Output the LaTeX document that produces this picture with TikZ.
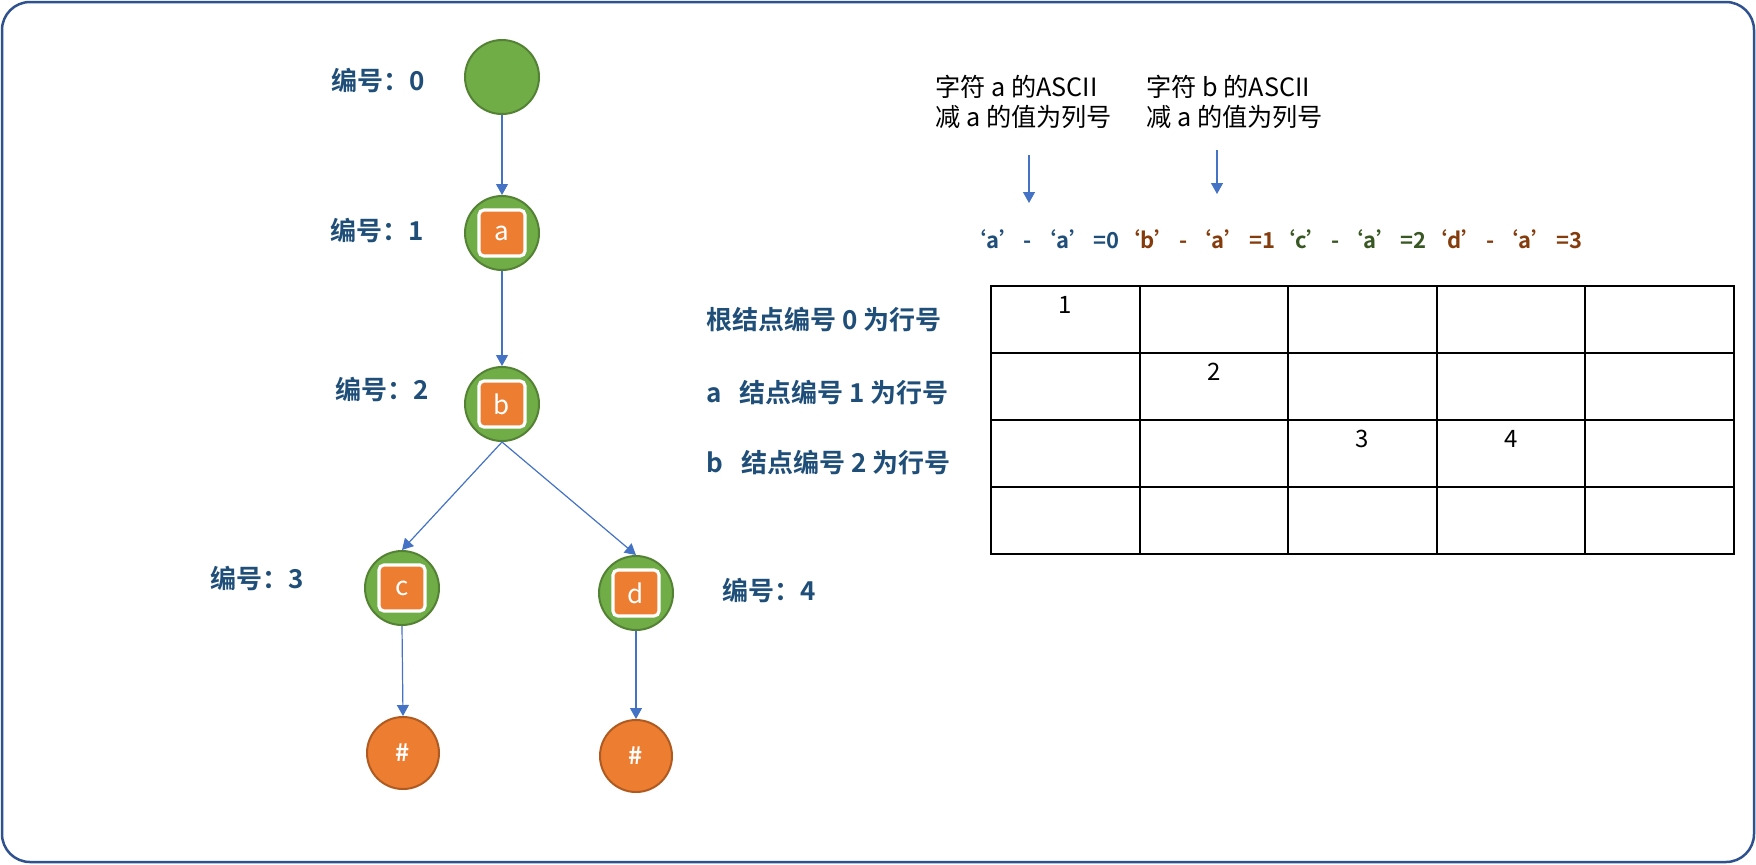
\documentclass[tikz,border=0pt]{standalone}
\usepackage{fontspec}
\setmainfont{Noto Sans CJK SC}[BoldFont={Noto Sans CJK SC Bold}]
\usepackage{tikz}
\usetikzlibrary{positioning,arrows.meta}
\definecolor{FrameBlue}{RGB}{47,82,143}
\definecolor{LabelBlue}{RGB}{31,78,121}
\definecolor{LinkBlue}{RGB}{68,114,196}
\definecolor{TrieGreen}{RGB}{112,173,71}
\definecolor{TrieGreenDark}{RGB}{84,130,53}
\definecolor{KeyOrange}{RGB}{237,125,49}
\definecolor{KeyOrangeDark}{RGB}{174,90,33}
\definecolor{CharBrown}{RGB}{132,60,12}
\definecolor{CharGreen}{RGB}{56,87,35}
\newcommand{\gap}{\hspace{1.2pt}}
\tikzset{
	trie/.style={circle,draw=TrieGreenDark,fill=TrieGreen,line width=1pt,minimum size=37pt,inner sep=0pt},
	tail/.style={circle,draw=KeyOrangeDark,fill=KeyOrange,line width=1pt,minimum size=36pt,inner sep=0pt,
		text=white,font=\fontsize{12}{14}\selectfont\bfseries},
	key/.style={draw=white,fill=KeyOrange,rounded corners=2.5pt,line width=1.6pt,minimum size=23pt,inner sep=0pt,
		text=white,font=\fontsize{13}{15}\selectfont},
	link/.style={draw=LinkBlue,line width=0.6pt,-{Triangle[width=6pt,length=5.5pt]}},
	idx/.style={text=LabelBlue,font=\fontsize{13}{15}\selectfont\bfseries},
	note/.style={align=left,inner sep=0pt,font=\fontsize{12.6}{15}\selectfont},
	calc/.style={font=\fontsize{11}{13}\selectfont\bfseries},
	cellbox/.style={draw=black,line width=1pt,minimum width=74.3pt,minimum height=33.5pt,inner sep=0pt},
	cellnum/.style={font=\fontsize{12}{14}\selectfont},
}

\begin{document}
\begin{tikzpicture}[x=0.5pt,y=-0.5pt]
	\useasboundingbox (0,0) rectangle (1756,864);
	\draw[FrameBlue,line width=1.25pt,rounded corners=14pt] (2,2) rectangle (1754,862);
	\node[trie] (n0) at (502,77) {};
	\node[trie] (n1) at (502,233) {};
	\node[trie] (n2) at (502,404) {};
	\node[trie] (n3) at (402,588) {};
	\node[trie] (n4) at (636,593) {};
	\node[tail] (e3) at (403,753) {\#};
	\node[tail] (e4) at (636,756) {\#};
	\foreach \p/\c in {n1/a,n2/b,n3/c,n4/d}
	\node[key] (k\c) at (\p) {\c};
	\foreach \u/\v in {n0/n1,n1/n2,n2/n3,n2/n4,n3/e3,n4/e4}
	\draw[link] (\u.south) -- (\v.north);
	\foreach \k/\x/\y in {0/378/80,1/377/230,2/382/389,3/257/578,4/769/590}
	\node[idx] (i\k) at (\x,\y) {编号：\k};
	\node[idx,anchor=west,inner sep=0pt] (r0) at (706,320) {根结点编号 0 为行号};
	\node[idx,anchor=west,inner sep=0pt] (r1) at (706,393) {a\hspace{9pt}结点编号 1 为行号};
	\node[idx,anchor=west,inner sep=0pt] (r2) at (706,463) {b\hspace{9pt}结点编号 2 为行号};
	\node[note,anchor=west] (ta) at (935,102) {字符 a 的ASCII\\减 a 的值为列号};
	\node[note,anchor=west] (tb) at (1146,102) {字符 b 的ASCII\\减 a 的值为列号};
	\coordinate (pa) at (1029,155);
	\coordinate (qa) at (1029,203);
	\coordinate (pb) at (1217,150);
	\coordinate (qb) at (1217,194);
	\draw[link] (pa) -- (qa);
	\draw[link] (pb) -- (qb);
	\foreach \n/\t/\x/\col in {0/‘a’\gap-\gap‘a’\gap=0/1042/LabelBlue,1/‘b’\gap-\gap‘a’\gap=1/1197/CharBrown,
		2/‘c’\gap-\gap‘a’\gap=2/1350/CharGreen,3/‘d’\gap-\gap‘a’\gap=3/1504/CharBrown}
	\node[calc,text=\col] (f\n) at (\x,239) {\t};
	\foreach \r in {0,...,3}
	\foreach \c in {0,...,4}
	\node[cellbox] (c\r\c) at ({1065.3+148.6*\c},{319.5+67*\r}) {};
	\foreach \r/\c/\v in {0/0/1,1/1/2,2/2/3,2/3/4}
	\node[cellnum] at ([yshift=-10pt]c\r\c.north) {\v};
\end{tikzpicture}
\end{document}
